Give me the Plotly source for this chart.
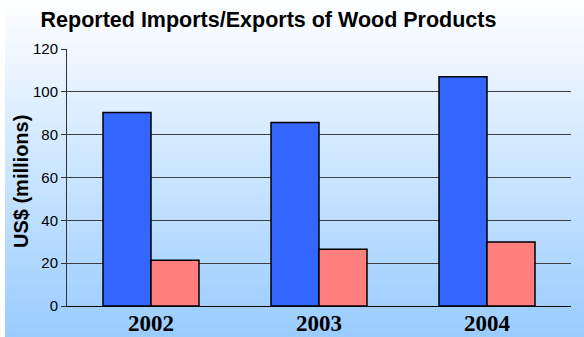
import plotly.graph_objects as go

years = ["2002", "2003", "2004"]
imports = [90.3, 85.7, 107.1]
exports = [21.4, 26.5, 29.9]
y_ticks = [0, 20, 40, 60, 80, 100, 120]

W, H = 584, 337
L, R, T, B = 67, 13, 49, 31
pw, ph = W - L - R, H - T - B

def px_x(px):
    return (px - L) / pw

def px_y(py):
    return (H - B - py) / ph

fig = go.Figure()
fig.add_trace(go.Bar(x=years, y=imports, name="Imports",
                     marker=dict(color="#3366FF", line=dict(color="black", width=1.5))))
fig.add_trace(go.Bar(x=years, y=exports, name="Exports",
                     marker=dict(color="#FF7F7F", line=dict(color="black", width=1.5))))

# background gradient (white -> light blue)
shapes = []
n = 80
top = (255, 255, 255)
bot = (153, 204, 255)
for i in range(n):
    y0 = H * i / n
    y1 = H * (i + 1) / n + 0.6
    t = (i + 0.5) / n
    c = tuple(round(top[k] + (bot[k] - top[k]) * t) for k in range(3))
    shapes.append(dict(type="rect", xref="paper", yref="paper",
                       x0=px_x(5), x1=px_x(W + 2), y0=px_y(y1), y1=px_y(y0),
                       fillcolor="rgb(%d,%d,%d)" % c, line=dict(width=0), layer="below"))

fig.update_layout(
    width=W, height=H,
    margin=dict(l=L, r=R, t=T, b=B),
    paper_bgcolor="white", plot_bgcolor="rgba(0,0,0,0)",
    barmode="group", bargap=0.4286, bargroupgap=0,
    showlegend=False,
    shapes=shapes,
    title=dict(text="<b>Reported Imports/Exports of Wood Products</b>",
               x=268.5 / W, xanchor="center", xref="container",
               y=1 - 19 / H, yanchor="middle", yref="container", automargin=False,
               font=dict(family="Liberation Sans, Arial", size=21.5, color="black")),
    font=dict(family="Liberation Sans, Arial", color="black"),
    annotations=[dict(text="<b>US$ (millions)</b>", xref="paper", yref="paper",
                      x=px_x(21), y=px_y(182), xanchor="center", yanchor="middle",
                      textangle=-90, showarrow=False,
                      font=dict(size=20, family="Liberation Sans, Arial", color="black"))],
)
fig.update_yaxes(range=[0, 120], tickvals=y_ticks, showgrid=True, gridcolor="#404040", gridwidth=1,
                 showline=True, linecolor="#333333", linewidth=1, ticks="outside", ticklen=5,
                 tickcolor="#333333", tickfont=dict(size=15, family="Liberation Sans, Arial"),
                 zeroline=False, automargin=False)
fig.update_xaxes(showline=True, linecolor="black", linewidth=1, ticks="", automargin=False,
                 ticklabelstandoff=-4,
                 tickfont=dict(size=23, family="Liberation Serif, Times New Roman"),
                 tickprefix="<b>", ticksuffix="</b>")
fig.write_html("out.html", config={"displayModeBar": False},
               post_script="document.body.style.margin='0px';")
